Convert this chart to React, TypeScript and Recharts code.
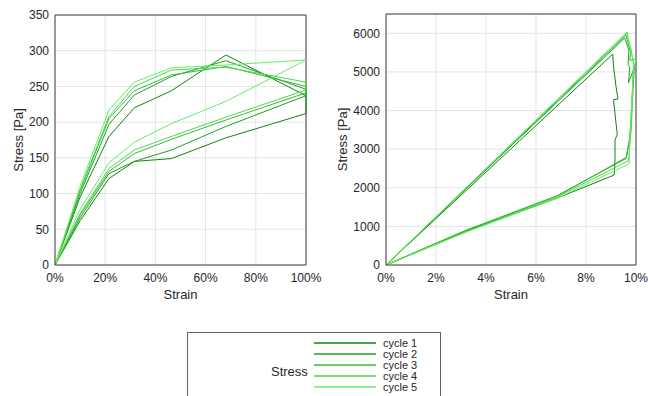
import { LineChart, Line, XAxis, YAxis, CartesianGrid, ReferenceLine } from "recharts";

// amplitude sweep (left): up the loading branch, back down the unloading one
const sweepStrain = [0, 10, 21.5, 31.6, 46.4, 68.1, 100, 100, 68.1, 46.4, 31.6, 21.5, 10, 0];
const sweepCycle1 = [0, 95, 180, 220, 244, 294, 237, 212, 178, 149, 145, 121, 62, 0];
const sweepCycle2 = [0, 100, 197, 238, 264, 286, 246, 237, 194, 161, 145, 128, 66, 0];
const sweepCycle3 = [0, 104, 205, 244, 266, 278, 250, 241, 203, 176, 156, 131, 70, 0];
const sweepCycle4 = [0, 106, 208, 250, 273, 277, 256, 245, 207, 180, 161, 135, 72, 0];
const sweepCycle5 = [0, 110, 217, 256, 276, 280, 287, 287, 229, 198, 172, 143, 78, 0];

// small strain loops (right)
const loopStrain1 = [0, 9.07, 9.1, 9.2, 9.28, 9.1, 9.25, 9.16, 9.16, 9.13, 6.8, 3.2, 0];
const loopStress1 = [0, 5460, 5150, 4620, 4300, 4280, 3380, 3240, 2720, 2330, 1720, 880, 0];
const loopStrain2 = [0, 9.55, 9.72, 9.68, 9.75, 9.7, 9.9, 9.8, 9.75, 9.6, 6.8, 3.2, 0];
const loopStress2 = [0, 5880, 5550, 5200, 5120, 4720, 5050, 3800, 3300, 2760, 1780, 900, 0];
const loopStrain3 = [0, 9.6, 9.78, 9.75, 9.95, 10.0, 9.93, 9.78, 9.62, 6.9, 3.2, 0];
const loopStress3 = [0, 5950, 5500, 5300, 5330, 5300, 5050, 3400, 2790, 1800, 890, 0];
const loopStrain4 = [0, 9.62, 9.8, 9.9, 9.82, 9.7, 6.8, 3.2, 0];
const loopStress4 = [0, 6000, 5600, 5200, 3600, 2700, 1750, 860, 0];
const loopStrain5 = [0, 9.65, 9.8, 9.9, 10.0, 9.9, 9.75, 9.73, 6.8, 3.2, 0];
const loopStress5 = [0, 6040, 5480, 5300, 5320, 5100, 3200, 2620, 1720, 850, 0];

const cycleNames = ["cycle 1", "cycle 2", "cycle 3", "cycle 4", "cycle 5"];
const COLORS = ["#0b870b", "#1fa21f", "#35bd35", "#4dd64d", "#66ee66"];

const zip = (xs: number[], ys: number[]) => xs.map((x, i) => ({ x, y: ys[i] }));

const leftSeries = [sweepCycle1, sweepCycle2, sweepCycle3, sweepCycle4, sweepCycle5].map((s) =>
  zip(sweepStrain, s)
);
const rightSeries = [
  zip(loopStrain1, loopStress1),
  zip(loopStrain2, loopStress2),
  zip(loopStrain3, loopStress3),
  zip(loopStrain4, loopStress4),
  zip(loopStrain5, loopStress5),
];

const FONT = "'Liberation Sans', Arial, sans-serif";
const AXIS = "#404040";
const TICK = { fontSize: 12, fill: "#262626", fontFamily: FONT };

type PanelProps = {
  series: { x: number; y: number }[][];
  xMax: number;
  xTicks: number[];
  yMax: number;
  yTicks: number[];
  yAxisWidth: number;
  marginTop: number;
  marginRight: number;
  width: number;
  labelDx: number;
};

function Panel({ series, xMax, xTicks, yMax, yTicks, yAxisWidth, marginTop, marginRight, width, labelDx }: PanelProps) {
  return (
    <LineChart width={width} height={310} margin={{ top: marginTop, right: marginRight, bottom: 15, left: 0 }}>
      <CartesianGrid stroke="#e3e3e3" />
      <XAxis
        type="number"
        dataKey="x"
        domain={[0, xMax]}
        ticks={xTicks}
        tickFormatter={(v: number) => `${v}%`}
        tick={TICK}
        tickLine={false}
        axisLine={{ stroke: AXIS }}
        height={30}
        label={{ value: "Strain", position: "center", dy: 14, fontSize: 13, fill: "#262626", fontFamily: FONT }}
      />
      <YAxis
        type="number"
        domain={[0, yMax]}
        ticks={yTicks}
        tick={TICK}
        tickLine={false}
        tickMargin={0}
        axisLine={{ stroke: AXIS }}
        width={yAxisWidth}
        label={{
          value: "Stress [Pa]",
          angle: -90,
          position: "center",
          dx: labelDx,
          fontSize: 13,
          fill: "#262626",
          fontFamily: FONT,
        }}
      />
      <ReferenceLine y={yMax} stroke={AXIS} />
      <ReferenceLine x={xMax} stroke={AXIS} />
      {series.map((d, i) => (
        <Line
          key={i}
          data={d}
          dataKey="y"
          stroke={COLORS[i]}
          strokeWidth={1}
          dot={false}
          isAnimationActive={false}
        />
      ))}
    </LineChart>
  );
}

function LegendBox() {
  return (
    <div
      style={{
        position: "absolute",
        left: 187,
        top: 332,
        width: 252,
        height: 80,
        border: "1px solid #606060",
        background: "#fff",
      }}
    >
      <svg width={252} height={80} style={{ position: "absolute", left: 0, top: 0 }}>
        <text x={83} y={43} fontSize={13} fill="#262626" fontFamily={FONT}>
          Stress
        </text>
        {cycleNames.map((name, i) => (
          <g key={name}>
            <line x1={126} x2={188} y1={10 + i * 11} y2={10 + i * 11} stroke={COLORS[i]} strokeWidth={1.3} />
            <text x={195} y={14 + i * 11} fontSize={11} fill="#262626" fontFamily={FONT}>
              {name}
            </text>
          </g>
        ))}
      </svg>
    </div>
  );
}

export default function App() {
  return (
    <div style={{ position: "absolute", left: 0, top: 0, width: 648, height: 396, background: "#fff", overflow: "hidden" }}>
      <div style={{ position: "absolute", left: 0, top: 0 }}>
        <Panel
          series={leftSeries}
          xMax={100}
          xTicks={[0, 20, 40, 60, 80, 100]}
          yMax={350}
          yTicks={[0, 50, 100, 150, 200, 250, 300, 350]}
          yAxisWidth={55}
          marginTop={15}
          marginRight={24}
          width={330}
          labelDx={-9}
        />
      </div>
      <div style={{ position: "absolute", left: 326, top: 0 }}>
        <Panel
          series={rightSeries}
          xMax={10}
          xTicks={[0, 2, 4, 6, 8, 10]}
          yMax={6500}
          yTicks={[0, 1000, 2000, 3000, 4000, 5000, 6000]}
          yAxisWidth={60}
          marginTop={14}
          marginRight={12}
          width={322}
          labelDx={-14}
        />
      </div>
      <LegendBox />
    </div>
  );
}
